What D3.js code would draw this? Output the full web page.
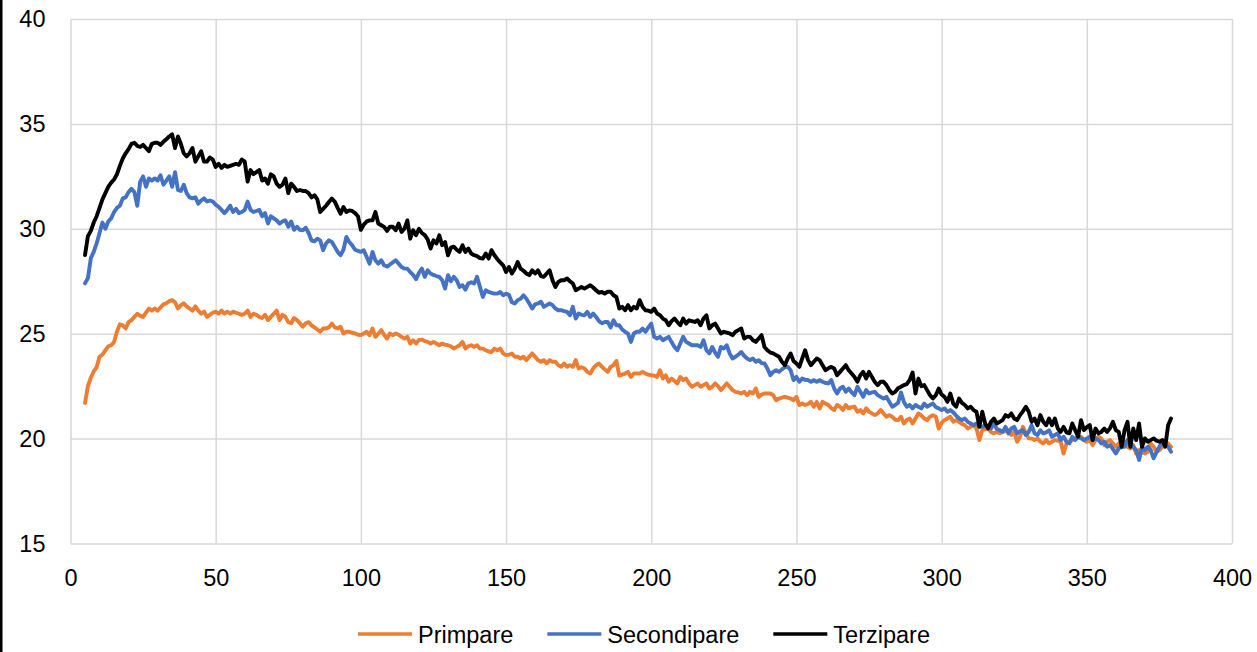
<!DOCTYPE html>
<html>
<head>
<meta charset="utf-8">
<script src="https://cdn.jsdelivr.net/npm/d3@7"></script>
<style>
  html, body { margin: 0; padding: 0; background: #fff; }
  svg { display: block; }
  text { font-family: "Liberation Sans", Arial, sans-serif; }
</style>
</head>
<body>
<svg id="chart" width="1257" height="652"></svg>
<script>
// ---------- data ----------
const seriesNames = ["Primpare", "Secondipare", "Terzipare"];
const firstDay = 5;
const xTicks = [0, 50, 100, 150, 200, 250, 300, 350, 400];
const yTicks = [15, 20, 25, 30, 35, 40];

const primpare = [
  21.7, 22.5, 22.9, 23.2, 23.4, 23.9, 24.0, 24.2, 24.4, 24.45,
  24.6, 25.1, 25.45, 25.4, 25.25, 25.55, 25.65, 25.8, 25.95, 25.85,
  25.8, 26.0, 26.2, 26.1, 26.2, 26.1, 26.25, 26.4, 26.45, 26.55,
  26.6, 26.5, 26.2, 26.35, 26.45, 26.3, 26.2, 26.1, 26.3, 26.1,
  25.95, 26.05, 25.8, 25.9, 26.0, 26.05, 25.95, 26.1, 25.95, 26.05,
  25.95, 26.05, 26.0, 25.95, 25.9, 25.95, 26.1, 25.8, 25.95, 25.9,
  25.8, 25.75, 25.9, 25.65, 25.8, 25.95, 26.1, 25.65, 25.9, 25.8,
  25.55, 25.5, 25.75, 25.65, 25.5, 25.33, 25.5, 25.55, 25.4, 25.3,
  25.2, 25.09, 25.25, 25.25, 25.3, 25.48, 25.3, 25.25, 25.33, 25.01,
  25.09, 25.09, 25.05, 25.01, 24.95, 24.93, 25.01, 25.09, 24.93, 25.25,
  24.85, 25.0, 25.17, 24.95, 24.77, 25.01, 24.93, 25.01, 24.95, 24.85,
  24.77, 24.85, 24.53, 24.69, 24.53, 24.7, 24.72, 24.65, 24.61, 24.53,
  24.61, 24.53, 24.45, 24.53, 24.48, 24.45, 24.4, 24.29, 24.37, 24.45,
  24.61, 24.29, 24.4, 24.45, 24.37, 24.45, 24.29, 24.29, 24.21, 24.15,
  24.13, 24.29, 24.21, 24.29, 24.06, 23.98, 24.0, 24.06, 23.9, 23.9,
  23.82, 23.9, 23.74, 23.9, 24.06, 23.9, 23.74, 23.66, 23.74, 23.58,
  23.74, 23.66, 23.66, 23.5, 23.42, 23.58, 23.42, 23.5, 23.42, 23.74,
  23.34, 23.4, 23.34, 23.18, 23.1, 23.34, 23.5, 23.58, 23.42, 23.3,
  23.18, 23.42, 23.5, 23.7, 23.0, 23.05, 23.1, 23.18, 22.94, 23.1,
  23.1, 23.1, 23.18, 23.1, 23.05, 23.02, 23.0, 22.94, 23.26, 22.86,
  23.02, 22.71, 22.86, 22.75, 22.63, 22.94, 22.79, 22.86, 22.63, 22.47,
  22.55, 22.63, 22.47, 22.55, 22.63, 22.39, 22.47, 22.63, 22.5, 22.31,
  22.47, 22.63, 22.47, 22.31, 22.23, 22.2, 22.15, 22.23, 22.07, 22.23,
  22.15, 22.39, 21.99, 22.1, 22.15, 22.15, 22.15, 22.07, 21.83, 21.91,
  21.95, 21.99, 21.95, 21.91, 21.83, 21.99, 21.6, 21.67, 21.6, 21.65,
  21.75, 21.52, 21.75, 21.44, 21.75, 21.67, 21.6, 21.45, 21.36, 21.6,
  21.52, 21.36, 21.6, 21.44, 21.5, 21.52, 21.28, 21.36, 21.2, 21.44,
  21.28, 21.2, 21.12, 21.2, 21.36, 21.2, 21.04, 21.12, 21.04, 20.9,
  20.88, 21.04, 20.72, 20.88, 20.96, 20.72, 20.96, 21.2, 21.1, 20.96,
  20.88, 21.04, 21.12, 21.04, 20.48, 20.75, 20.88, 20.96, 21.04, 20.8,
  20.88, 20.8, 20.7, 20.64, 20.48, 20.56, 20.64, 20.48, 19.93, 20.4,
  20.45, 20.48, 20.32, 20.25, 20.32, 20.25, 20.32, 20.36, 20.4, 20.17,
  20.32, 19.85, 20.09, 20.56, 20.25, 20.01, 20.0, 19.93, 20.01, 19.85,
  19.77, 19.93, 19.77, 19.85, 19.93, 19.9, 19.85, 19.29, 19.77, 19.85,
  19.93, 20.01, 20.05, 20.09, 19.93, 19.85, 19.93, 19.69, 19.93, 20.09,
  20.0, 19.69, 19.85, 19.93, 19.77, 19.61, 19.77, 19.8, 19.85, 19.61,
  19.53, 19.69, 19.29, 19.45, 19.35, 19.29, 19.37, 19.77, 19.61, 19.37,
  19.45, 19.6, 19.85, 19.77, 19.61
];

const secondipare = [
  27.4, 27.65, 28.6, 28.9, 29.3, 29.8, 30.3, 30.0, 30.35, 30.5,
  30.8, 31.0, 31.1, 31.45, 31.5, 31.75, 31.9, 31.75, 31.1, 32.25,
  32.5, 32.0, 32.4, 32.3, 32.4, 32.3, 32.55, 32.1, 32.3, 32.5,
  32.0, 32.7, 31.85, 31.8, 32.1, 31.7, 31.5, 31.45, 31.5, 31.2,
  31.35, 31.45, 31.3, 31.35, 31.3, 31.15, 31.05, 30.9, 30.75, 30.9,
  31.1, 30.8, 30.95, 30.75, 30.8, 30.9, 31.3, 30.9, 30.8, 30.85,
  30.9, 30.6, 30.75, 30.25, 30.6, 30.5, 30.4, 30.25, 30.35, 30.4,
  30.1, 30.35, 29.95, 30.1, 29.95, 29.93, 30.05, 29.8, 29.45, 29.4,
  29.53, 29.45, 28.98, 29.3, 29.45, 29.37, 29.14, 28.9, 28.74, 29.0,
  29.61, 29.37, 29.22, 29.0, 28.95, 28.9, 28.98, 28.66, 28.34, 28.9,
  28.5, 28.34, 28.5, 28.26, 28.2, 28.3, 28.4, 28.5, 28.34, 28.18,
  28.1, 28.1, 27.94, 27.8, 27.6, 27.9, 28.1, 27.71, 28.02, 27.87,
  27.8, 27.75, 27.71, 27.55, 27.15, 27.79, 27.5, 27.71, 27.55, 27.23,
  27.31, 27.1, 27.4, 27.45, 27.39, 27.71, 27.23, 26.75, 27.07, 26.99,
  26.95, 26.91, 26.91, 26.99, 26.83, 26.91, 26.85, 26.5, 26.44, 26.6,
  26.67, 26.83, 26.67, 26.44, 26.2, 26.4, 26.44, 26.52, 26.28, 26.36,
  26.44, 26.36, 26.2, 26.12, 26.12, 26.08, 26.04, 25.88, 26.28, 25.72,
  25.96, 25.9, 25.88, 26.04, 25.8, 25.96, 25.8, 25.6, 25.5, 25.56,
  25.56, 25.3, 25.64, 25.4, 25.4, 25.2, 25.09, 25.0, 24.61, 25.01,
  25.09, 25.09, 25.25, 25.09, 25.3, 25.48, 24.85, 24.77, 24.85, 24.69,
  24.77, 24.85, 24.6, 24.37, 24.21, 24.53, 24.85, 24.61, 24.53, 24.45,
  24.45, 24.45, 24.37, 24.69, 24.21, 24.06, 24.37, 24.1, 23.9, 24.37,
  24.29, 24.45, 24.06, 23.82, 23.9, 24.0, 24.13, 23.95, 23.82, 23.74,
  23.82, 23.66, 23.74, 23.6, 23.58, 23.34, 23.02, 23.18, 23.26, 23.18,
  23.3, 23.4, 23.42, 23.26, 22.79, 22.94, 22.71, 22.86, 22.8, 22.79,
  22.71, 22.79, 22.71, 22.79, 22.71, 22.65, 22.63, 22.79, 22.39, 22.15,
  22.39, 22.47, 22.23, 22.39, 22.2, 22.07, 22.47, 22.23, 21.99, 22.31,
  22.15, 22.2, 22.23, 22.07, 21.99, 21.91, 21.99, 21.75, 21.52, 21.6,
  21.7, 22.2, 21.75, 21.52, 21.6, 21.44, 21.6, 21.52, 21.44, 21.67,
  21.52, 21.6, 21.67, 21.5, 21.44, 21.36, 21.44, 21.28, 21.36, 21.25,
  21.1, 20.96, 20.88, 20.96, 20.8, 20.72, 20.64, 20.72, 20.6, 20.56,
  20.64, 20.56, 20.48, 20.72, 20.45, 20.4, 20.32, 20.56, 20.25, 20.48,
  20.56, 20.25, 20.35, 20.4, 20.17, 20.32, 20.64, 20.25, 20.17, 20.4,
  20.25, 20.3, 20.4, 20.09, 20.17, 20.25, 19.93, 20.09, 19.85, 19.77,
  20.09, 19.93, 20.09, 20.01, 19.93, 20.0, 20.09, 19.93, 20.01, 19.93,
  19.77, 19.85, 19.61, 19.69, 19.5, 19.29, 19.53, 19.61, 19.61, 19.93,
  19.77, 19.6, 19.45, 18.98, 19.61, 19.45, 19.61, 19.45, 19.06, 19.35,
  19.61, 19.85, 19.69, 19.61, 19.37
];

const terzipare = [
  28.75, 29.65, 29.9, 30.3, 30.6, 31.0, 31.4, 31.7, 32.0, 32.2,
  32.35, 32.6, 33.0, 33.35, 33.6, 33.8, 34.05, 34.1, 33.95, 33.9,
  34.0, 33.85, 33.7, 34.05, 34.1, 34.1, 34.0, 34.15, 34.27, 34.4,
  34.5, 33.85, 34.4, 34.05, 33.6, 33.45, 33.6, 33.85, 33.2, 33.45,
  33.7, 33.2, 33.2, 33.4, 33.3, 32.95, 33.1, 32.9, 33.05, 32.95,
  33.0, 33.05, 33.1, 33.05, 33.3, 33.2, 32.25, 32.8, 32.6, 32.7,
  32.8, 32.3, 32.4, 32.15, 32.6, 32.5, 32.15, 32.0, 32.1, 32.4,
  31.7, 32.15, 32.0, 31.8, 31.85, 31.8, 31.8, 31.7, 31.5, 31.6,
  31.4, 30.8, 30.95, 31.1, 31.28, 31.44, 31.3, 31.0, 30.72, 31.04,
  30.8, 30.88, 30.85, 30.75, 30.6, 29.95, 30.2, 30.35, 30.4, 30.4,
  30.8, 30.25, 30.17, 30.09, 29.9, 30.1, 30.1, 29.93, 30.25, 29.85,
  30.0, 30.4, 29.53, 29.93, 29.69, 30.0, 29.8, 29.7, 29.5, 29.06,
  29.45, 29.3, 29.69, 29.22, 29.37, 28.74, 29.1, 29.15, 29.0, 28.9,
  29.22, 28.9, 29.06, 28.82, 28.74, 28.7, 28.6, 28.58, 28.82, 28.58,
  28.98, 28.74, 28.55, 28.4, 28.26, 27.94, 28.18, 27.87, 28.1, 28.42,
  28.1, 28.0, 27.87, 27.79, 28.02, 27.87, 28.02, 27.75, 27.71, 27.87,
  28.02, 27.55, 27.23, 27.47, 27.55, 27.55, 27.63, 27.5, 27.39, 27.07,
  27.15, 27.23, 27.15, 27.23, 27.31, 27.2, 27.07, 26.95, 26.99, 26.91,
  27.0, 27.0, 26.83, 26.75, 26.2, 26.28, 26.12, 26.36, 26.12, 26.28,
  26.2, 26.6, 26.28, 26.12, 26.1, 26.04, 26.2, 25.96, 25.88, 25.72,
  25.64, 25.4, 25.6, 25.72, 25.56, 25.4, 25.72, 25.48, 25.64, 25.6,
  25.56, 25.64, 25.4, 25.72, 25.88, 25.25, 25.4, 25.48, 25.25, 25.01,
  25.09, 25.05, 25.01, 24.93, 25.09, 25.17, 25.25, 24.77, 24.85, 24.85,
  24.69, 24.61, 24.77, 24.93, 24.37, 24.21, 24.1, 24.06, 23.98, 23.9,
  23.66, 23.5, 23.82, 24.06, 23.7, 23.58, 23.42, 23.82, 24.21, 23.74,
  23.5, 23.66, 23.82, 23.74, 23.5, 23.26, 23.35, 23.42, 23.34, 23.02,
  23.18, 23.34, 23.5, 23.26, 23.1, 22.94, 22.71, 23.02, 23.18, 22.86,
  23.18, 22.94, 22.7, 22.55, 22.71, 22.71, 22.55, 22.31, 22.15, 22.23,
  22.4, 22.47, 22.55, 22.6, 22.8, 23.15, 22.15, 22.86, 22.5, 22.55,
  22.31, 22.07, 21.91, 22.07, 22.39, 22.1, 21.99, 21.75, 22.15, 21.67,
  21.52, 21.91, 21.7, 21.6, 21.44, 21.52, 21.36, 21.28, 20.56, 21.28,
  20.72, 20.48, 20.8, 20.96, 20.72, 20.8, 20.88, 21.12, 21.04, 21.2,
  20.96, 20.88, 21.12, 21.3, 21.52, 21.28, 20.8, 20.96, 20.64, 21.12,
  20.8, 20.64, 20.96, 20.64, 20.96, 20.48, 20.32, 20.56, 20.3, 20.25,
  20.72, 20.4, 20.09, 20.88, 20.4, 20.55, 20.64, 19.93, 20.48, 20.25,
  20.32, 20.48, 20.32, 20.5, 20.8, 20.4, 20.32, 19.61, 20.4, 20.8,
  19.61, 20.48, 19.93, 20.72, 19.61, 20.01, 19.85, 19.93, 20.01, 19.9,
  19.85, 19.93, 19.61, 20.64, 20.96
];

const seriesValues = [primpare, secondipare, terzipare];
const seriesColors = ["#ED7D31", "#4472C4", "#000000"];

// ---------- layout ----------
const svg = d3.select("#chart");
const plot = { left: 70.5, right: 1232, top: 19, bottom: 543.5 };

const x = d3.scaleLinear().domain([0, 400]).range([plot.left, plot.right]);
const y = d3.scaleLinear().domain([15, 40]).range([plot.bottom, plot.top]);

// left black frame edge
svg.append("rect").attr("x", 0).attr("y", 0).attr("width", 2.5).attr("height", 652).attr("fill", "#000");

// vertical grid + x labels
const gx = svg.append("g")
  .attr("transform", `translate(0,${plot.bottom})`)
  .call(d3.axisBottom(x).tickValues(xTicks).tickFormat(d3.format("d"))
        .tickSize(-(plot.bottom - plot.top)).tickPadding(25.5));
gx.select(".domain").remove();
gx.selectAll(".tick line").attr("stroke", "#D9D9D9").attr("stroke-width", 1.5);
gx.selectAll(".tick text").attr("fill", "#000").style("font-size", "23.5px")
  .style("font-family", '"Liberation Sans", Arial, sans-serif');

// horizontal grid + y labels
const gy = svg.append("g")
  .attr("transform", `translate(${plot.left},0)`)
  .call(d3.axisLeft(y).tickValues(yTicks).tickFormat(d3.format("d"))
        .tickSize(-(plot.right - plot.left)).tickPadding(25));
gy.select(".domain").remove();
gy.selectAll(".tick line").attr("stroke", "#D9D9D9").attr("stroke-width", 1.5);
gy.selectAll(".tick text").attr("fill", "#000").style("font-size", "23.5px")
  .style("font-family", '"Liberation Sans", Arial, sans-serif');

// lines
const line = d3.line()
  .x((d, i) => x(firstDay + i))
  .y(d => y(d));

seriesValues.forEach((vals, k) => {
  svg.append("path")
    .datum(vals)
    .attr("fill", "none")
    .attr("stroke", seriesColors[k])
    .attr("stroke-width", 3.9)
    .attr("stroke-linejoin", "round")
    .attr("stroke-linecap", "round")
    .attr("d", line);
});

// legend
const legend = svg.append("g");
let lx = 358;
const ly = 634;
seriesNames.forEach((name, k) => {
  legend.append("line")
    .attr("x1", lx).attr("x2", lx + 54)
    .attr("y1", ly).attr("y2", ly)
    .attr("stroke", seriesColors[k]).attr("stroke-width", 3.4);
  const t = legend.append("text")
    .attr("x", lx + 60).attr("y", 643)
    .attr("fill", "#000")
    .style("font-size", "23.5px")
    .text(name);
  const w = t.node().getComputedTextLength();
  lx = lx + 60 + w + 34;
});
</script>
</body>
</html>
